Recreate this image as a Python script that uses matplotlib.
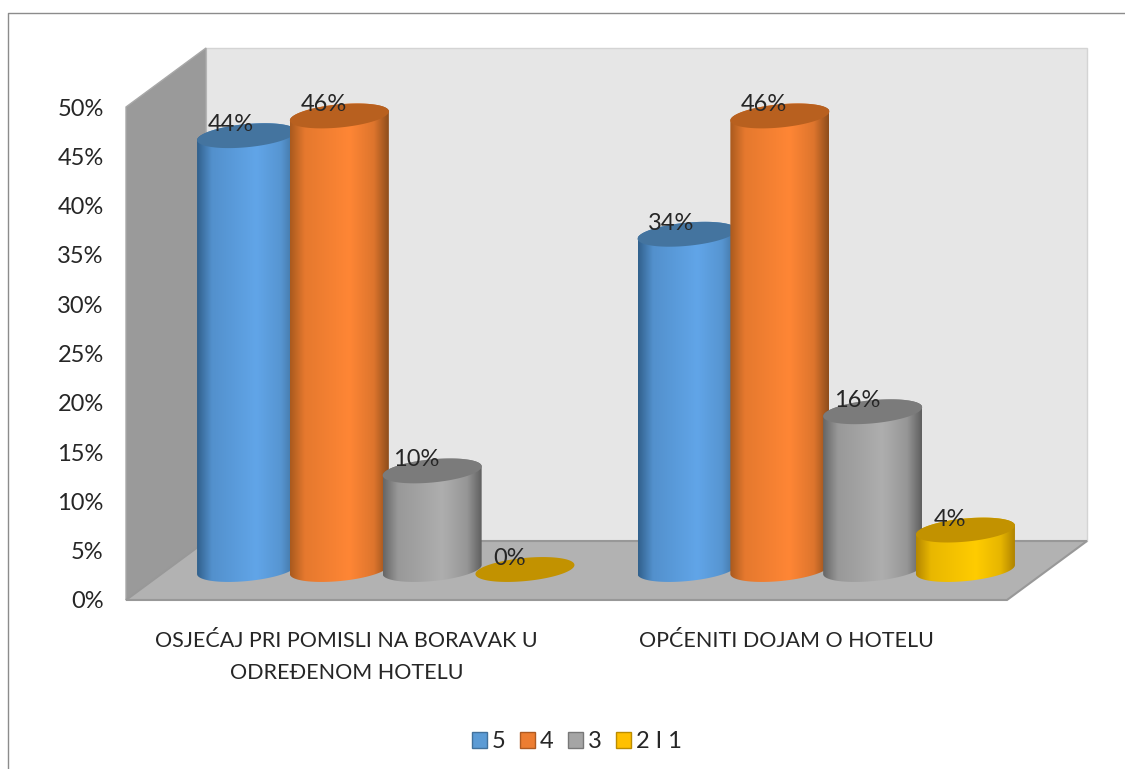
import numpy as np
import matplotlib
matplotlib.use("Agg")
import matplotlib.pyplot as plt
from matplotlib.colors import LinearSegmentedColormap, to_rgb
from matplotlib.lines import Line2D
from matplotlib.patches import Patch, Polygon

# Data
categories = ["OSJEĆAJ PRI POMISLI NA BORAVAK U\nODREĐENOM HOTELU", "OPĆENITI DOJAM O HOTELU"]
series_names = ["5", "4", "3", "2 I 1"]
values_5 = [44, 34]
values_4 = [46, 46]
values_3 = [10, 16]
values_21 = [0, 4]
all_values = [values_5, values_4, values_3, values_21]
y_ticks = [0, 5, 10, 15, 20, 25, 30, 35, 40, 45, 50]

# Colours: body gradient (edge, middle, edge), cap, legend fill, legend edge
body_colors = [
    ["#31608c", "#61a5e8", "#3f709c"],
    ["#a95a1e", "#ff8635", "#8e4d1b"],
    ["#666666", "#aeaeae", "#5f5f5f"],
    ["#b58700", "#ffcc00", "#ac8000"],
]
cap_colors = ["#44749f", "#b8601f", "#7b7b7b", "#c29200"]
legend_colors = ["#5b9bd5", "#ed7d31", "#a5a5a5", "#ffc000"]
legend_edges = ["#41719c", "#ae5a21", "#787878", "#bc8c00"]

FONT = "Lato"
TEXT = "#262626"
W, H = 1125, 769

fig = plt.figure(figsize=(W / 100, H / 100), dpi=100)
# axes = the front plane of the 3D box
ax = fig.add_axes([126 / W, 1 - 600 / H, (1007 - 126) / W, (600 - 107) / H])
ax.set_xlim(0, 2)
ax.set_ylim(0, 50)

# pixel sizes in data units
px_x = 2 / (1007 - 126)
px_y = 50 / (600 - 107)

# 3D box
depth_x = 80 * px_x
depth_y = 59 * px_y
ax.add_patch(Polygon([(depth_x, depth_y), (2 + depth_x, depth_y), (2 + depth_x, 50 + depth_y), (depth_x, 50 + depth_y)],
                     fc="#e6e6e6", ec="#d4d4d4", lw=1, clip_on=False, zorder=1))
ax.add_patch(Polygon([(0, 0), (depth_x, depth_y), (depth_x, 50 + depth_y), (0, 50)],
                     fc="#9a9a9a", ec="#a8a8a8", lw=1, clip_on=False, zorder=2))
ax.add_patch(Polygon([(0, 0), (depth_x, depth_y), (2 + depth_x, depth_y), (2, 0)],
                     fc="#b2b2b2", ec="#989898", lw=1.5, clip_on=False, zorder=3))

# Cylinders
bar_step = 92.8 * px_x
half_w = 49.5 * px_x
base_x = 39.5 * px_x
base_y = 30.5 * px_y
shear = 4.5 * px_y
minor = 11.6 * px_y
t = np.linspace(0, 2 * np.pi, 200)


def ellipse(cx, cy, tt):
    return cx + half_w * np.cos(tt), cy + shear * np.cos(tt) + minor * np.sin(tt)


def shade(edge, mid):
    # colour most of the way from the dark edge to the bright middle
    return tuple(0.3 * a + 0.7 * b for a, b in zip(to_rgb(edge), to_rgb(mid)))


z = 4
for i, vals in enumerate(all_values):
    left, mid, right = body_colors[i]
    stops = [(0, left), (0.15, shade(left, mid)), (0.6, mid), (0.85, shade(right, mid)), (1, right)]
    cmap = LinearSegmentedColormap.from_list("c", stops)
    for j, v in enumerate(vals):
        cx = j + 0.5 + base_x + (i - 1.5) * bar_step
        top = base_y + v
        if v > 0:
            lower = np.linspace(np.pi, 2 * np.pi, 100)
            upper = np.linspace(0, np.pi, 100)
            xb, yb = ellipse(cx, base_y, lower)
            xt, yt = ellipse(cx, top, upper)
            body = Polygon(np.column_stack([np.r_[xb, xt], np.r_[yb, yt]]), fc="none", ec="none",
                           transform=ax.transData, clip_on=False, zorder=z)
            ax.add_patch(body)
            grad = np.linspace(0, 1, 256).reshape(1, -1)
            im = ax.imshow(grad, cmap=cmap, aspect="auto", zorder=z, interpolation="bilinear",
                           extent=[cx - half_w, cx + half_w, base_y - minor * 2, top + minor * 2])
            im.set_clip_box(fig.bbox)
            im.set_clip_path(body)
        xc, yc = ellipse(cx, top, t)
        ax.add_patch(Polygon(np.column_stack([xc, yc]), fc=cap_colors[i], ec="none", clip_on=False, zorder=z + 0.5))
        ax.text(cx - 15.5 * px_x, top + 11 * px_y, f"{v}%", ha="center", va="center", fontsize=17,
                family=FONT, color=TEXT, zorder=20)
        z += 1

ax.set_xlim(0, 2)
ax.set_ylim(0, 50)

# Axes
ax.set_yticks(y_ticks)
ax.set_yticklabels([f"{v}%" for v in y_ticks], fontsize=17, family=FONT, color=TEXT)
ax.set_xticks([0.5, 1.5])
ax.set_xticklabels(categories, fontsize=15.5, family=FONT, color=TEXT, linespacing=1.75)
ax.tick_params(axis="y", length=0, pad=16)
ax.tick_params(axis="x", length=0, pad=22)
for s in ax.spines.values():
    s.set_visible(False)
ax.patch.set_visible(False)

# Legend
handles = [Patch(fc=c, ec=e, lw=1) for c, e in zip(legend_colors, legend_edges)]
fig.legend(handles, series_names, ncol=4, frameon=False, loc="center", bbox_to_anchor=(577 / W, 1 - 742 / H),
           handlelength=0.63, handleheight=0.63, handletextpad=0.22, columnspacing=0.6,
           prop={"family": FONT, "size": 17}, labelcolor=TEXT)

# Chart frame
fig.add_artist(Line2D([8 / W, 8 / W, 1], [0, 1 - 13 / H, 1 - 13 / H], color="#8c8c8c", lw=1))

fig.savefig("out.png", dpi=100)
